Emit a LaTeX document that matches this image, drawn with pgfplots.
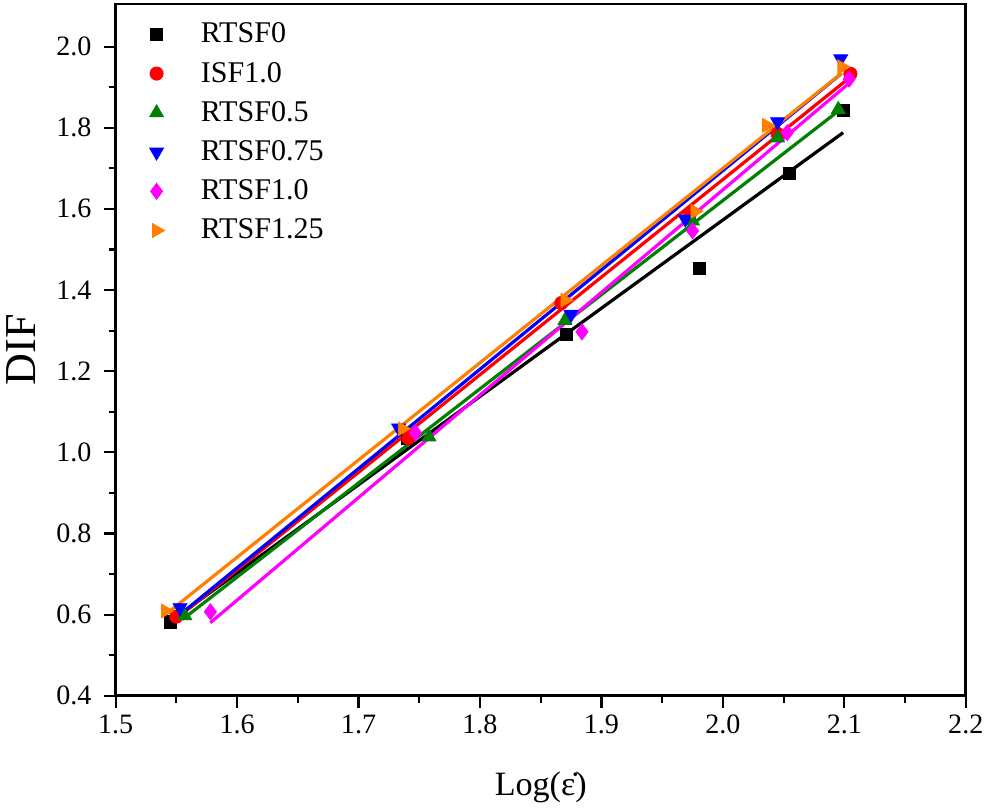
\documentclass[border=0pt]{standalone}
\usepackage{pgfplots}
\pgfplotsset{compat=1.18}
\usepackage{fontspec}
\setmainfont{Liberation Serif}
\definecolor{cBlack}{RGB}{0,0,0}
\definecolor{cRed}{RGB}{255,0,0}
\definecolor{cGreen}{RGB}{0,128,0}
\definecolor{cBlue}{RGB}{0,0,255}
\definecolor{cMag}{RGB}{255,0,255}
\definecolor{cOrange}{RGB}{255,128,0}
\begin{document}
\begin{tikzpicture}
\begin{axis}[
  scale only axis,
  width=424pt, height=345pt,
  xmin=1.5, xmax=2.2, ymin=0.4, ymax=2.105,
  xtick={1.5,1.6,...,2.2},
  ytick={0.4,0.6,...,2.0},
  minor x tick num=1, minor y tick num=1,
  axis line style={line width=1.3pt},
  every tick/.style={line width=1.1pt, black},
  tick align=outside,
  xtick pos=bottom, ytick pos=left,
  major tick length=6pt, minor tick length=3.5pt,
  /pgf/number format/assume math mode=true,
  /pgf/number format/fixed, /pgf/number format/fixed zerofill,
  /pgf/number format/precision=1,
  tick label style={font=\fontsize{14}{17}\selectfont},
  yticklabel style={xshift=-2.5pt},
  xlabel={Log(ε̇)},
  ylabel={DIF},
  xlabel style={font=\fontsize{17}{20}\selectfont, yshift=-12pt},
  ylabel style={font=\fontsize{22}{24}\selectfont, yshift=3.5pt},
  legend style={draw=none, fill=none, at={(0.020,0.985)}, anchor=north west,
    font=\fontsize{15}{18}\selectfont, row sep=4.1pt,
    legend cell align=left},
  legend image code/.code={%
    \path (0cm,0cm) (1.0cm,0cm);
    \draw[mark repeat=2,mark phase=2,#1] plot coordinates {(0cm,0cm) (0.3cm,0cm) (0.6cm,0cm)};},
]
% fit lines
\addplot[forget plot, cBlack, line width=1.6pt] coordinates {(1.545,0.583) (2.099,1.788)};
\addplot[forget plot, cGreen, line width=1.6pt] coordinates {(1.555,0.588) (2.098,1.848)};
\addplot[forget plot, cMag, line width=1.6pt] coordinates {(1.578,0.580) (2.104,1.910)};
\addplot[forget plot, cRed, line width=1.6pt] coordinates {(1.550,0.590) (2.105,1.925)};
\addplot[forget plot, cBlue, line width=1.6pt] coordinates {(1.553,0.600) (2.097,1.932)};
\addplot[forget plot, cOrange, line width=1.6pt] coordinates {(1.541,0.600) (2.098,1.935)};
% data
\addplot[only marks, mark=square*, mark size=3pt, cBlack, mark options={fill=cBlack}] coordinates {
 (1.545,0.582) (1.740,1.035) (1.871,1.290) (1.981,1.454) (2.055,1.688) (2.099,1.843)};
\addlegendentry{RTSF0}
\addplot[only marks, mark=*, mark size=3.3pt, cRed, mark options={fill=cRed}] coordinates {
 (1.550,0.595) (1.741,1.035) (1.867,1.368) (1.973,1.589) (2.045,1.785) (2.105,1.933)};
\addlegendentry{ISF1.0}
\addplot[only marks, mark=triangle*, mark size=4pt, cGreen, mark options={fill=cGreen}] coordinates {
 (1.557,0.597) (1.758,1.038) (1.870,1.325) (1.975,1.570) (2.045,1.775) (2.095,1.845)};
\addlegendentry{RTSF0.5}
\addplot[only marks, mark=triangle*, mark size=4pt, cBlue, mark options={fill=cBlue, rotate=180}] coordinates {
 (1.553,0.617) (1.733,1.060) (1.875,1.340) (1.969,1.575) (2.045,1.815) (2.097,1.970)};
\addlegendentry{RTSF0.75}
\addplot[only marks, mark=diamond*, mark size=4pt, cMag, mark options={fill=cMag}] coordinates {
 (1.578,0.607) (1.747,1.048) (1.884,1.297) (1.975,1.546) (2.053,1.788) (2.104,1.920)};
\addlegendentry{RTSF1.0}
\addplot[only marks, mark=triangle*, mark size=4pt, cOrange, mark options={fill=cOrange, rotate=-90}] coordinates {
 (1.541,0.609) (1.736,1.058) (1.870,1.375) (1.977,1.594) (2.036,1.806) (2.098,1.950)};
\addlegendentry{RTSF1.25}
\end{axis}
\path (current axis.north) ++(0,2pt);
\end{tikzpicture}
\end{document}
